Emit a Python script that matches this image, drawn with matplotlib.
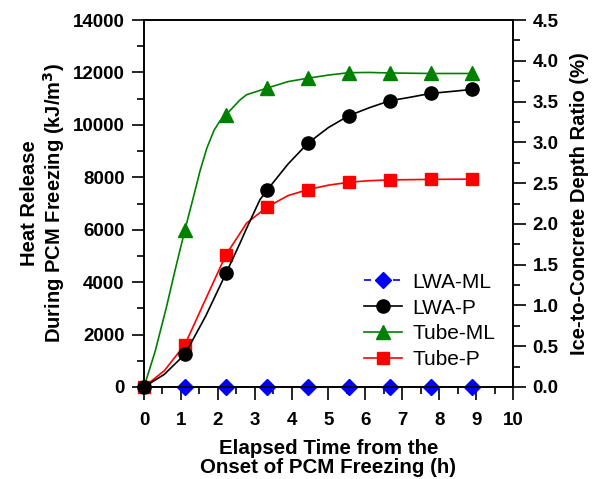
import matplotlib
matplotlib.use("Agg")
import matplotlib.pyplot as plt
from matplotlib.ticker import MultipleLocator, FormatStrFormatter
from matplotlib.lines import Line2D

plt.rcParams['font.family'] = ['Liberation Sans', 'DejaVu Sans']

# marker sample times (h)
t_mark = [0.0, 1.11, 2.22, 3.33, 4.44, 5.55, 6.66, 7.77, 8.88]

# LWA-ML
lwa_ml_mark = [0, 0, 0, 0, 0, 0, 0, 0, 0]
# LWA-P
lwa_p_t = [0.0, 0.55, 1.11, 1.67, 2.22, 2.6, 2.78, 3.14, 3.33, 3.9, 4.44, 5.0, 5.55, 6.1, 6.66, 7.2, 7.77, 8.3, 8.88]
lwa_p_y = [0, 480, 1250, 2700, 4330, 5480, 6050, 7140, 7500, 8500, 9300, 9900, 10350, 10650, 10920, 11050, 11200, 11270, 11350]
lwa_p_mark = [0, 1250, 4330, 7500, 9300, 10350, 10920, 11200, 11350]
# Tube-ML
tube_ml_t = [0.0, 0.3, 0.6, 0.85, 1.11, 1.34, 1.52, 1.7, 1.9, 2.06, 2.22, 2.6, 2.78, 3.33, 3.9, 4.44, 5.0, 5.55, 6.1, 6.66, 7.77, 8.88]
tube_ml_y = [0, 1350, 3000, 4500, 6000, 7250, 8250, 9100, 9800, 10150, 10380, 10950, 11150, 11400, 11650, 11780, 11900, 11990, 12000, 11980, 11960, 11960]
tube_ml_mark = [0, 6000, 10380, 11400, 11780, 11990, 11980, 11960, 11960]
# Tube-P
tube_p_t = [0.0, 0.55, 1.11, 1.67, 2.22, 2.6, 2.78, 3.33, 3.9, 4.44, 5.0, 5.55, 6.1, 6.66, 7.77, 8.88]
tube_p_y = [0, 620, 1620, 3350, 5040, 5860, 6250, 6860, 7300, 7530, 7700, 7810, 7870, 7900, 7920, 7930]
tube_p_mark = [0, 1620, 5040, 6860, 7530, 7810, 7900, 7920, 7930]

fig = plt.figure(figsize=(5.99, 4.79), dpi=100)
ax = fig.add_axes([0.2404, 0.1921, 0.6160, 0.7661])
ax2 = ax.twinx()

lw = 1.2
# Tube-P
ax.plot(tube_p_t, tube_p_y, color='#ff0000', lw=lw, zorder=3)
ax.plot(t_mark, tube_p_mark, ls='none', marker='s', ms=8.5, color='#ff0000', zorder=4, clip_on=False)
# Tube-ML
ax.plot(tube_ml_t, tube_ml_y, color='#008000', lw=lw, zorder=3)
ax.plot(t_mark[1:], tube_ml_mark[1:], ls='none', marker='^', ms=10, color='#008000', zorder=4, clip_on=False)
# LWA-P
ax.plot(lwa_p_t, lwa_p_y, color='black', lw=lw, zorder=5)
ax.plot(t_mark, lwa_p_mark, ls='none', marker='o', ms=9.5, color='black', zorder=6, clip_on=False)
# LWA-ML
ax.plot(t_mark, lwa_ml_mark, ls='--', lw=lw, color='#0000ff', zorder=2)
ax.plot(t_mark[1:], lwa_ml_mark[1:], ls='none', marker='D', ms=8, color='#0000ff', zorder=7, clip_on=False)

ax.set_xlim(0, 10)
ax.set_ylim(0, 14000)
ax2.set_ylim(0, 4.5)

ax.xaxis.set_major_locator(MultipleLocator(1))
ax.xaxis.set_minor_locator(MultipleLocator(0.5))
ax.yaxis.set_major_locator(MultipleLocator(2000))
ax.yaxis.set_minor_locator(MultipleLocator(1000))
ax2.yaxis.set_major_locator(MultipleLocator(0.5))
ax2.yaxis.set_minor_locator(MultipleLocator(0.25))
ax2.yaxis.set_major_formatter(FormatStrFormatter('%.1f'))

for a in (ax, ax2):
    a.tick_params(which='major', direction='out', length=9, width=1.2, labelsize=13.5, pad=5)
    a.tick_params(which='minor', direction='out', length=5, width=1.2)
    for s in a.spines.values():
        s.set_linewidth(1.2)
ax.tick_params(axis='x', which='major', pad=9)
for lab in ax.get_xticklabels() + ax.get_yticklabels() + ax2.get_yticklabels():
    lab.set_fontweight('bold')

ax.set_xlabel('Elapsed Time from the\nOnset of PCM Freezing (h)', fontsize=14.8, fontweight='bold', labelpad=7, linespacing=1.0)
ax.set_ylabel('Heat Release\nDuring PCM Freezing (kJ/m$^\\mathbf{3}$)', fontsize=14.5, fontweight='bold', labelpad=4, linespacing=1.1)
ax2.set_ylabel('Ice-to-Concrete Depth Ratio (%)', fontsize=14.5, fontweight='bold', labelpad=8)

handles = [
    Line2D([], [], color='#0000ff', ls=(0, (4.2, 4.5)), lw=lw, marker='D', ms=8),
    Line2D([], [], color='black', lw=lw, marker='o', ms=9.5),
    Line2D([], [], color='#008000', lw=lw, marker='^', ms=10),
    Line2D([], [], color='#ff0000', lw=lw, marker='s', ms=8.5),
]
labels = ['LWA-ML', 'LWA-P', 'Tube-ML', 'Tube-P']
ax2.legend(handles, labels, loc='lower right', bbox_to_anchor=(1.0, 0.0), frameon=False,
           fontsize=15, handlelength=1.8, handletextpad=0.5, labelspacing=0.33,
           borderaxespad=0.45)

fig.savefig('out.png', dpi=100)
